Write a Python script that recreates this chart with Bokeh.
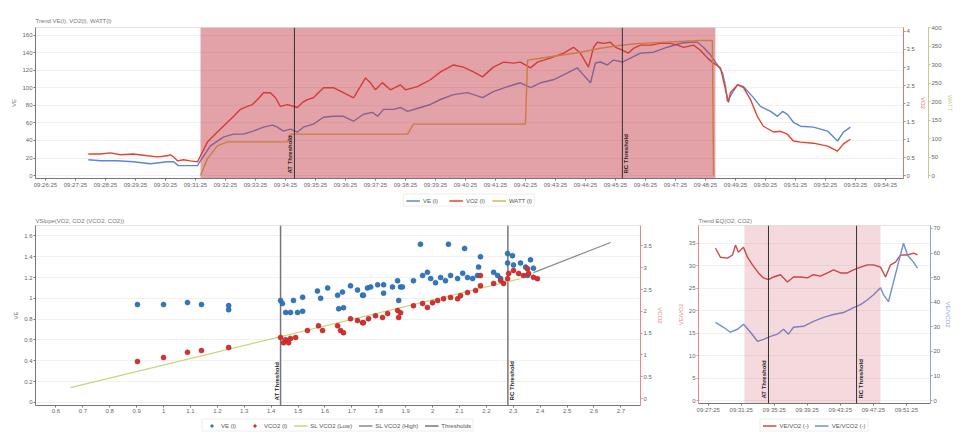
from bokeh.plotting import figure
from bokeh.models import (Range1d, LinearAxis, FixedTicker, BoxAnnotation, Span, Label,
                          Legend, LegendItem)
from bokeh.layouts import column, row
from bokeh.embed import file_html
from bokeh.resources import INLINE
import math

FONT = "Liberation Sans"

top_ticks = list(range(29))
top_tick_labels = ["09:26:25", "09:27:25", "09:28:25", "09:29:25", "09:30:25", "09:31:25",
                   "09:32:25", "09:33:25", "09:34:25", "09:35:25", "09:36:25", "09:37:25",
                   "09:38:25", "09:39:25", "09:40:25", "09:41:25", "09:42:25", "09:43:25",
                   "09:44:25", "09:45:25", "09:46:25", "09:47:25", "09:48:25", "09:49:25",
                   "09:50:25", "09:51:25", "09:52:25", "09:53:25", "09:54:25"]

ve_t = [1.43, 1.83, 2.40, 2.93, 3.50, 4.07, 4.27, 4.43, 4.73, 5.07, 5.17, 5.50, 5.93, 6.27, 6.60,
        6.93, 7.27, 7.57, 7.73, 7.93, 8.17, 8.40, 8.60, 8.93, 9.27, 9.60, 9.93, 10.27, 10.60, 10.90,
        11.07, 11.27, 11.60, 11.83, 12.07, 12.50, 12.83, 13.17, 13.60, 14.07, 14.57, 14.93, 15.40,
        15.83, 16.17, 16.50, 16.93, 17.40, 17.73, 17.93, 18.17, 18.33, 18.50, 18.73, 18.93, 19.23,
        19.50, 19.83, 20.27, 20.73, 21.17, 21.50, 21.73, 21.93, 22.17, 22.40, 22.57, 22.67, 22.73,
        22.90, 23.07, 23.27, 23.57, 23.83, 24.17, 24.40, 24.57, 24.73, 24.93, 25.17, 25.60, 26.07,
        26.40, 26.60, 26.83]
ve = [18.0, 16.9, 16.9, 15.8, 13.5, 15.8, 15.8, 11.3, 11.3, 11.3, 16.9, 33.8, 43.9, 47.3, 47.3,
      50.7, 55.2, 57.5, 55.2, 50.7, 53.0, 49.6, 55.2, 58.6, 66.5, 67.6, 67.6, 62.0, 69.9, 72.1,
      67.6, 75.5, 75.5, 77.7, 73.2, 77.7, 81.1, 86.8, 92.4, 94.6, 89.0, 95.8, 101.4, 105.9, 100.3,
      105.9, 109.3, 117.2, 122.8, 114.9, 105.9, 128.5, 129.6, 126.2, 131.8, 129.6, 134.1, 139.7,
      140.8, 146.5, 151.0, 152.1, 152.1, 146.5, 137.5, 126.2, 117.2, 101.4, 84.5, 94.6, 103.7,
      101.4, 90.1, 78.9, 73.2, 67.6, 73.2, 69.9, 60.8, 56.3, 55.2, 50.7, 39.4, 49.6, 55.2]

vo2_t = [1.43, 1.83, 2.17, 2.50, 2.93, 3.40, 3.73, 4.07, 4.17, 4.27, 4.40, 4.60, 4.83, 5.07, 5.17,
         5.40, 5.73, 6.07, 6.27, 6.50, 6.73, 6.90, 7.07, 7.27, 7.50, 7.67, 7.83, 8.07, 8.40, 8.57,
         8.73, 8.93, 9.27, 9.60, 9.93, 10.27, 10.67, 10.83, 11.00, 11.23, 11.50, 11.83, 12.00,
         12.40, 12.83, 13.17, 13.60, 13.93, 14.27, 14.57, 14.93, 15.27, 15.60, 15.83, 16.17,
         16.40, 16.83, 17.27, 17.60, 17.83, 18.10, 18.27, 18.40, 18.60, 18.83, 19.00, 19.23,
         19.43, 19.60, 19.83, 20.17, 20.50, 20.83, 21.07, 21.27, 21.60, 21.83, 22.07, 22.27,
         22.50, 22.67, 22.77, 22.83, 23.07, 23.27, 23.50, 23.73, 23.93, 24.27, 24.50, 24.73,
         24.93, 25.17, 25.60, 26.07, 26.40, 26.60, 26.83]
vo2 = [0.60, 0.60, 0.63, 0.58, 0.60, 0.55, 0.52, 0.55, 0.58, 0.52, 0.41, 0.44, 0.41, 0.38, 0.55,
       0.93, 1.21, 1.48, 1.64, 1.84, 1.92, 1.97, 2.11, 2.30, 2.30, 2.16, 1.92, 1.97, 1.89, 2.03,
       2.11, 2.16, 2.44, 2.44, 2.30, 2.16, 2.71, 2.58, 2.38, 2.58, 2.38, 2.52, 2.38, 2.47, 2.66,
       2.88, 3.07, 3.01, 2.88, 2.74, 3.01, 3.15, 3.12, 3.15, 2.99, 3.15, 3.26, 3.40, 3.56, 3.40,
       3.01, 3.56, 3.70, 3.67, 3.70, 3.56, 3.48, 3.40, 3.53, 3.62, 3.62, 3.67, 3.67, 3.62, 3.56,
       3.62, 3.48, 3.26, 3.12, 2.99, 2.38, 2.03, 2.30, 2.52, 2.44, 2.11, 1.64, 1.37, 1.21, 1.23,
       1.15, 0.96, 0.93, 0.90, 0.82, 0.68, 0.88, 1.01]

watt_t = [5.17, 5.40, 5.73, 6.07, 8.07, 8.17, 12.07, 12.27, 16.00, 16.07, 16.50, 17.17, 17.83,
          18.50, 19.17, 19.83, 21.83, 22.23, 22.27]
watt = [0, 45, 80, 91, 91, 112, 112, 139, 139, 312, 317, 325, 333, 344, 352, 357, 365, 365, 0]

top_shade = [5.17, 22.33]
top_thresholds = [8.30, 19.23]
threshold_names = ["AT Threshold", "RC Threshold"]

bl_ticks = [0.6, 0.7, 0.8, 0.9, 1.0, 1.1, 1.2, 1.3, 1.4, 1.5, 1.6, 1.7, 1.8, 1.9, 2.0, 2.1, 2.2,
            2.3, 2.4, 2.5, 2.6, 2.7]
bl_tick_labels = ["0.6", "0.7", "0.8", "0.9", "1", "1.1", "1.2", "1.3", "1.4", "1.5", "1.6",
                  "1.7", "1.8", "1.9", "2", "2.1", "2.2", "2.3", "2.4", "2.5", "2.6", "2.7"]

bl_x_blue = [0.903, 1.0, 1.089, 1.141, 1.242, 1.242, 1.435, 1.442, 1.454, 1.472, 1.498, 1.517,
             1.483, 1.517, 1.572, 1.610, 1.584, 1.647, 1.665, 1.651, 1.669, 1.695, 1.721, 1.740,
             1.758, 1.743, 1.770, 1.796, 1.818, 1.851, 1.881, 1.818, 1.870, 1.888, 1.874, 1.955,
             2.059, 2.119, 2.178, 2.171, 1.929, 1.963, 1.981, 1.993, 2.011, 2.030, 2.048, 2.067,
             2.093, 2.112, 2.130, 2.149, 2.167, 2.227, 2.242, 2.253, 2.279, 2.297, 2.279, 2.301,
             2.327, 2.346, 2.364, 2.375, 2.353]
bl_ve = [0.94, 0.94, 0.96, 0.94, 0.93, 0.89, 0.98, 0.95, 0.865, 0.865, 0.865, 0.875, 0.98, 1.01,
         1.07, 1.10, 1.00, 1.03, 1.06, 0.90, 0.91, 1.12, 1.08, 1.03, 1.10, 1.03, 1.11, 1.13, 1.13,
         1.11, 1.11, 1.05, 1.17, 1.11, 0.98, 1.52, 1.52, 1.48, 1.40, 1.30, 1.17, 1.22, 1.25, 1.19,
         1.15, 1.20, 1.17, 1.22, 1.19, 1.24, 1.20, 1.19, 1.22, 1.25, 1.22, 1.19, 1.43, 1.41, 1.34,
         1.32, 1.34, 1.30, 1.37, 1.29, 1.22]

bl_x_red = [0.903, 1.0, 1.089, 1.141, 1.242, 1.435, 1.454, 1.472, 1.491, 1.446, 1.465, 1.535,
            1.576, 1.591, 1.647, 1.658, 1.669, 1.695, 1.721, 1.740, 1.762, 1.743, 1.788, 1.814,
            1.833, 1.870, 1.874, 1.881, 1.929, 1.963, 1.981, 2.0, 2.019, 2.041, 2.067, 2.093,
            2.104, 2.130, 2.160, 2.178, 2.178, 2.227, 2.253, 2.279, 2.264, 2.283, 2.301, 2.320,
            2.338, 2.357, 2.375, 2.390, 2.353]
bl_vco2 = [0.85, 0.94, 1.06, 1.10, 1.17, 1.40, 1.35, 1.38, 1.40, 1.28, 1.28, 1.56, 1.67, 1.56,
           1.67, 1.56, 1.51, 1.83, 1.79, 1.74, 1.83, 1.74, 1.90, 1.86, 1.95, 2.02, 1.86, 1.97,
           2.13, 2.18, 2.09, 2.20, 2.25, 2.29, 2.32, 2.29, 2.36, 2.43, 2.48, 2.59, 2.82, 2.64,
           2.71, 2.75, 2.64, 2.87, 2.94, 2.87, 2.82, 2.87, 2.78, 2.75, 2.98]

slope_low_x = [0.654, 2.327]
slope_low_y = [0.25, 2.75]
slope_high_x = [2.375, 2.662]
slope_high_y = [2.89, 3.58]
bl_thresholds = [1.435, 2.28]

br_ticks = [1, 5, 9, 13, 17, 21, 25]
br_tick_labels = ["09:27:25", "09:31:25", "09:35:25", "09:39:25", "09:43:25", "09:47:25",
                  "09:51:25"]
br_t_red = [1.88, 2.48, 3.33, 3.94, 4.30, 4.66, 5.27, 5.75, 6.36, 7.09, 7.69, 8.30, 8.91, 9.75,
            10.60, 11.33, 12.18, 13.03, 13.75, 14.60, 15.45, 16.18, 17.03, 17.87, 18.60, 19.45,
            20.30, 21.03, 21.87, 22.48, 23.09, 23.69, 24.30, 25.15, 25.87, 26.36]
br_eqo2 = [33.9, 31.9, 31.7, 32.4, 34.6, 33.0, 34.1, 31.9, 30.2, 28.4, 27.3, 26.9, 27.5, 28.0,
           26.4, 27.5, 27.5, 27.3, 28.0, 27.7, 28.4, 29.1, 28.4, 28.4, 29.1, 29.7, 30.2, 30.2,
           29.7, 27.5, 30.2, 30.8, 32.4, 32.4, 32.8, 32.4]
br_t_blue = [1.88, 2.85, 3.69, 4.54, 5.27, 6.12, 6.97, 7.69, 8.54, 9.39, 10.12, 10.72, 11.33,
             12.54, 13.75, 14.97, 16.18, 17.39, 18.60, 19.45, 20.30, 21.03, 21.87, 22.24, 22.84,
             23.45, 24.06, 24.66, 25.15, 25.87, 26.36]
br_eqco2 = [31.8, 29.8, 27.8, 29.0, 31.0, 27.8, 24.1, 24.9, 26.1, 27.0, 29.0, 27.0, 29.8, 30.2,
            32.2, 33.8, 35.0, 35.8, 37.8, 39.0, 41.0, 43.0, 45.9, 43.0, 40.2, 48.3, 56.3, 64.0,
            59.1, 56.3, 53.9]
br_shade = [5.39, 21.87]
br_thresholds = [8.30, 18.97]

C_BLUE = "#5a88d6"
C_RED = "#e2452f"
C_OLIVE = "#d6b64a"
C_SHADE = "#c0303f"
C_BLUE_PT = "#2f78c4"
C_RED_PT = "#d83030"
C_SLOW = "#cfd27a"
C_SHIGH = "#8a8a8a"
C_THR = "#777777"
C_EQO2 = "#cc4a4a"
C_EQCO2 = "#6f8fd4"


def style_axis(ax, color="#777777"):
    ax.major_label_text_font_size = "6px"
    ax.major_label_text_font = FONT
    ax.major_label_text_color = "#666666"
    ax.axis_label_text_font_size = "6px"
    ax.axis_label_text_font = FONT
    ax.axis_label_text_font_style = "normal"
    ax.axis_label_text_color = color
    ax.axis_line_color = color
    ax.major_tick_line_color = color
    ax.minor_tick_line_color = None
    ax.major_tick_out = 2
    ax.major_tick_in = 0
    ax.major_label_standoff = 1
    ax.axis_label_standoff = 2


def style_fig(p):
    p.title.text_font_size = "6px"
    p.title.text_font = FONT
    p.title.text_font_style = "normal"
    p.title.text_color = "#777777"
    p.title.standoff = 7
    p.outline_line_color = "#e4e4e4"
    p.xgrid.grid_line_color = None
    p.ygrid.grid_line_color = "#f1f1f1"


def legend_fig(width, specs):
    """A thin strip below a chart that only carries that chart's legend.
    Its legend proxies sit outside the strip's visible ranges, so only the legend shows."""
    lf = figure(width=width, height=20, x_range=Range1d(0, 1), y_range=Range1d(0, 1),
                output_backend="svg", toolbar_location=None, min_border=0,
                x_axis_type=None, y_axis_type=None)
    lf.outline_line_color = None
    items = []
    for kind, label, color in specs:
        if kind == "dot":
            r = lf.scatter([-10], [-10], size=5, fill_color=color, line_color=color)
        else:
            r = lf.line([-10, -9], [-10, -10], line_color=color, line_width=1.4)
        items.append(LegendItem(label=label, renderers=[r]))
    lg = Legend(items=items, orientation="horizontal", location="center")
    lg.label_text_font_size = "6px"
    lg.label_text_font = FONT
    lg.label_text_color = "#555555"
    lg.glyph_width = 14
    lg.glyph_height = 6
    lg.label_height = 7
    lg.label_standoff = 3
    lg.spacing = 6
    lg.padding = 2
    lg.margin = 0
    lg.border_line_color = "#dddddd"
    lf.add_layout(lg)
    return lf


def threshold_labels(p, xs, y, names, sides):
    for x, name, side in zip(xs, names, sides):
        p.add_layout(Label(x=x, y=y, text=name, angle=math.pi / 2,
                           text_baseline="bottom" if side == "left" else "top",
                           text_font_size="6px", text_font=FONT, text_font_style="bold",
                           text_color="#222222", x_offset=-1 if side == "left" else 1,
                           y_offset=2))


# ---------------- top figure ----------------
top = figure(width=963, height=190, x_range=Range1d(-0.33, 28.6), y_range=Range1d(-3.4, 169),
             output_backend="svg", toolbar_location=None, title="Trend VE(l), VO2(l), WATT(l)",
             min_border_left=35, min_border_right=60, min_border_top=27, min_border_bottom=10)
style_fig(top)
top.extra_y_ranges = {"vo2": Range1d(-0.08, 4.11), "watt": Range1d(-8, 400)}
top.yaxis.axis_label = "VE"
top.yaxis.ticker = FixedTicker(ticks=[0, 20, 40, 60, 80, 100, 120, 140, 160])
style_axis(top.yaxis[0])
top.xaxis.ticker = FixedTicker(ticks=top_ticks)
top.xaxis.major_label_overrides = {t: l for t, l in zip(top_ticks, top_tick_labels)}
style_axis(top.xaxis[0])
ax_vo2 = LinearAxis(y_range_name="vo2", axis_label="VO2",
                    ticker=FixedTicker(ticks=[0, 0.5, 1, 1.5, 2, 2.5, 3, 3.5, 4]))
style_axis(ax_vo2, "#e07a6a")
top.add_layout(ax_vo2, "right")
ax_w = LinearAxis(y_range_name="watt", axis_label="WATT",
                  ticker=FixedTicker(ticks=[0, 50, 100, 150, 200, 250, 300, 350, 400]))
style_axis(ax_w, "#c9c98a")
top.add_layout(ax_w, "right")

top.line(ve_t, ve, line_color=C_BLUE, line_width=1.4)
top.line(vo2_t, vo2, line_color=C_RED, line_width=1.4, y_range_name="vo2")
top.line(watt_t, watt, line_color=C_OLIVE, line_width=1.4, y_range_name="watt")
top.add_layout(BoxAnnotation(left=top_shade[0], right=top_shade[1], fill_color=C_SHADE,
                             fill_alpha=0.45, line_color=None))
for x in top_thresholds:
    top.add_layout(Span(location=x, dimension="height", line_color="#333333", line_width=1))
threshold_labels(top, top_thresholds, 0, threshold_names, ["left", "right"])
top_leg = legend_fig(963, [("line", "VE (l)", C_BLUE), ("line", "VO2 (l)", C_RED),
                           ("line", "WATT (l)", C_OLIVE)])

# ---------------- bottom-left figure ----------------
bl = figure(width=668, height=205, x_range=Range1d(0.524, 2.773), y_range=Range1d(-0.03, 1.70),
            output_backend="svg", toolbar_location=None, title="VSlope(VO2, CO2 (VCO2, CO2))",
            min_border_left=35, min_border_right=28, min_border_top=15, min_border_bottom=10)
style_fig(bl)
bl.title.standoff = 3
bl.extra_y_ranges = {"vco2": Range1d(-0.16, 3.97)}
bl.yaxis.axis_label = "VE"
bl.yaxis.ticker = FixedTicker(ticks=[0, 0.2, 0.4, 0.6, 0.8, 1, 1.2, 1.4, 1.6])
style_axis(bl.yaxis[0])
bl.xaxis.ticker = FixedTicker(ticks=bl_ticks)
bl.xaxis.major_label_overrides = {t: l for t, l in zip(bl_ticks, bl_tick_labels)}
style_axis(bl.xaxis[0])
ax_vco2 = LinearAxis(y_range_name="vco2", axis_label="VCO2",
                     ticker=FixedTicker(ticks=[0, 0.5, 1, 1.5, 2, 2.5, 3, 3.5]))
style_axis(ax_vco2, "#e58a8a")
bl.add_layout(ax_vco2, "right")

bl.segment(x0=bl_thresholds, y0=[-0.03, -0.03], x1=bl_thresholds, y1=[1.70, 1.70],
           line_color=C_THR, line_width=1.5)
bl.line(slope_low_x, slope_low_y, line_color=C_SLOW, line_width=1.2, y_range_name="vco2")
bl.line(slope_high_x, slope_high_y, line_color=C_SHIGH, line_width=1.2, y_range_name="vco2")
bl.scatter(bl_x_blue, bl_ve, size=5, fill_color=C_BLUE_PT, line_color="#24588f", line_width=0.5)
bl.scatter(bl_x_red, bl_vco2, size=5, fill_color=C_RED_PT, line_color="#a02020", line_width=0.5,
           y_range_name="vco2")
threshold_labels(bl, bl_thresholds, 0, threshold_names, ["left", "right"])
bl_leg = legend_fig(668, [("dot", "VE (l)", C_BLUE_PT), ("dot", "VCO2 (l)", C_RED_PT),
                          ("line", "SL VCO2 (Low)", C_SLOW), ("line", "SL VCO2 (High)", C_SHIGH),
                          ("line", "Thresholds", C_THR)])

# ---------------- bottom-right figure ----------------
br = figure(width=295, height=205, x_range=Range1d(-0.18, 27.93), y_range=Range1d(-0.66, 38.96),
            output_backend="svg", toolbar_location=None, title="Trend EQ(O2, CO2)",
            min_border_left=30, min_border_right=33, min_border_top=15, min_border_bottom=10)
style_fig(br)
br.title.standoff = 3
br.extra_y_ranges = {"eqco2": Range1d(-1.2, 71.2)}
br.yaxis.axis_label = "VE/VO2"
br.yaxis.ticker = FixedTicker(ticks=[0, 5, 10, 15, 20, 25, 30, 35])
style_axis(br.yaxis[0], "#e58a8a")
br.xaxis.ticker = FixedTicker(ticks=br_ticks)
br.xaxis.major_label_overrides = {t: l for t, l in zip(br_ticks, br_tick_labels)}
style_axis(br.xaxis[0])
ax_eq = LinearAxis(y_range_name="eqco2", axis_label="VE/VCO2",
                   ticker=FixedTicker(ticks=[0, 10, 20, 30, 40, 50, 60, 70]))
style_axis(ax_eq, "#8fa3d8")
br.add_layout(ax_eq, "right")

br.line(br_t_red, br_eqo2, line_color=C_EQO2, line_width=1.4)
br.line(br_t_blue, br_eqco2, line_color=C_EQCO2, line_width=1.4, y_range_name="eqco2")
br.add_layout(BoxAnnotation(left=br_shade[0], right=br_shade[1], fill_color=C_SHADE,
                            fill_alpha=0.18, line_color=None))
for x in br_thresholds:
    br.add_layout(Span(location=x, dimension="height", line_color="#333333", line_width=1))
threshold_labels(br, br_thresholds, 0, threshold_names, ["left", "right"])
br_leg = legend_fig(295, [("line", "VE/VO2 (-)", C_EQO2), ("line", "VE/VCO2 (-)", C_EQCO2)])

layout = column(top, top_leg, row(column(bl, bl_leg), column(br, br_leg)))
open("out.html", "w").write(file_html(layout, INLINE))
